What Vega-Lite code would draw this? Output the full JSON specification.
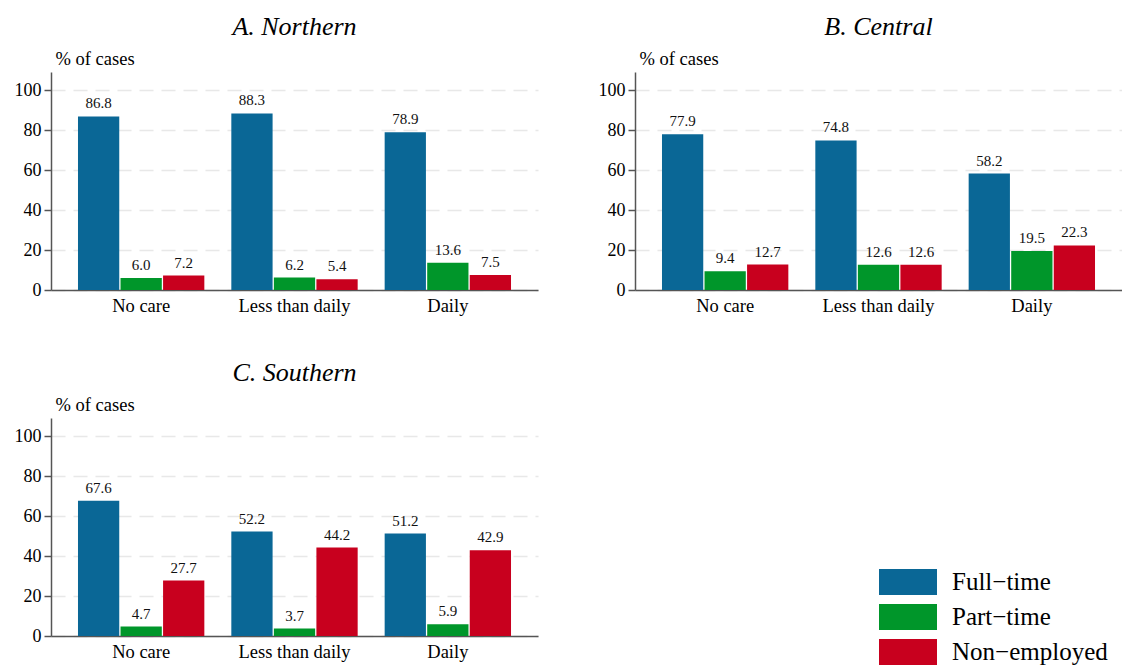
{
  "$schema": "https://vega.github.io/schema/vega-lite/v6.json",
  "background": "white",
  "padding": {"left": 14, "top": 14, "right": 0, "bottom": 0},
  "datasets": {
    "cases": [
      {"region": "Northern", "care": "No care", "status": "Full−time", "pct": 86.8},
      {"region": "Northern", "care": "No care", "status": "Part−time", "pct": 6.0},
      {"region": "Northern", "care": "No care", "status": "Non−employed", "pct": 7.2},
      {"region": "Northern", "care": "Less than daily", "status": "Full−time", "pct": 88.3},
      {"region": "Northern", "care": "Less than daily", "status": "Part−time", "pct": 6.2},
      {"region": "Northern", "care": "Less than daily", "status": "Non−employed", "pct": 5.4},
      {"region": "Northern", "care": "Daily", "status": "Full−time", "pct": 78.9},
      {"region": "Northern", "care": "Daily", "status": "Part−time", "pct": 13.6},
      {"region": "Northern", "care": "Daily", "status": "Non−employed", "pct": 7.5},
      {"region": "Central", "care": "No care", "status": "Full−time", "pct": 77.9},
      {"region": "Central", "care": "No care", "status": "Part−time", "pct": 9.4},
      {"region": "Central", "care": "No care", "status": "Non−employed", "pct": 12.7},
      {"region": "Central", "care": "Less than daily", "status": "Full−time", "pct": 74.8},
      {"region": "Central", "care": "Less than daily", "status": "Part−time", "pct": 12.6},
      {"region": "Central", "care": "Less than daily", "status": "Non−employed", "pct": 12.6},
      {"region": "Central", "care": "Daily", "status": "Full−time", "pct": 58.2},
      {"region": "Central", "care": "Daily", "status": "Part−time", "pct": 19.5},
      {"region": "Central", "care": "Daily", "status": "Non−employed", "pct": 22.3},
      {"region": "Southern", "care": "No care", "status": "Full−time", "pct": 67.6},
      {"region": "Southern", "care": "No care", "status": "Part−time", "pct": 4.7},
      {"region": "Southern", "care": "No care", "status": "Non−employed", "pct": 27.7},
      {"region": "Southern", "care": "Less than daily", "status": "Full−time", "pct": 52.2},
      {"region": "Southern", "care": "Less than daily", "status": "Part−time", "pct": 3.7},
      {"region": "Southern", "care": "Less than daily", "status": "Non−employed", "pct": 44.2},
      {"region": "Southern", "care": "Daily", "status": "Full−time", "pct": 51.2},
      {"region": "Southern", "care": "Daily", "status": "Part−time", "pct": 5.9},
      {"region": "Southern", "care": "Daily", "status": "Non−employed", "pct": 42.9}
    ]
  },
  "vconcat": [
    {
      "hconcat": [
        {
          "title": "A. Northern",
          "width": 487,
          "height": 218,
          "data": {"name": "cases"},
          "transform": [{"filter": "datum.region === 'Northern'"}],
          "encoding": {
            "x": {"field": "care", "type": "nominal", "sort": ["No care", "Less than daily", "Daily"], "scale": {"paddingInner": 0.176, "paddingOuter": 0.176}, "axis": {"title": null}},
            "xOffset": {"field": "status", "type": "nominal", "sort": ["Full−time", "Part−time", "Non−employed"], "scale": {"paddingInner": 0.03}},
            "y": {"field": "pct", "type": "quantitative", "scale": {"domain": [0, 109], "nice": false}, "axis": {"title": "% of cases", "values": [0, 20, 40, 60, 80, 100], "grid": true}}
          },
          "layer": [
            {"mark": {"type": "bar"}, "encoding": {"color": {"field": "status", "type": "nominal", "sort": ["Full−time", "Part−time", "Non−employed"], "scale": {"domain": ["Full−time", "Part−time", "Non−employed"], "range": ["#0a6796", "#00962a", "#c8001e"]}, "legend": {"title": null}}}},
            {"mark": {"type": "text", "dy": -8, "baseline": "alphabetic", "fontSize": 15, "color": "#111"}, "encoding": {"text": {"field": "pct", "type": "quantitative", "format": ".1f"}}}
          ]
        },
        {
          "title": "B. Central",
          "width": 487,
          "height": 218,
          "data": {"name": "cases"},
          "transform": [{"filter": "datum.region === 'Central'"}],
          "encoding": {
            "x": {"field": "care", "type": "nominal", "sort": ["No care", "Less than daily", "Daily"], "scale": {"paddingInner": 0.176, "paddingOuter": 0.176}, "axis": {"title": null}},
            "xOffset": {"field": "status", "type": "nominal", "sort": ["Full−time", "Part−time", "Non−employed"], "scale": {"paddingInner": 0.03}},
            "y": {"field": "pct", "type": "quantitative", "scale": {"domain": [0, 109], "nice": false}, "axis": {"title": "% of cases", "values": [0, 20, 40, 60, 80, 100], "grid": true}}
          },
          "layer": [
            {"mark": {"type": "bar"}, "encoding": {"color": {"field": "status", "type": "nominal", "sort": ["Full−time", "Part−time", "Non−employed"], "scale": {"domain": ["Full−time", "Part−time", "Non−employed"], "range": ["#0a6796", "#00962a", "#c8001e"]}, "legend": {"title": null}}}},
            {"mark": {"type": "text", "dy": -8, "baseline": "alphabetic", "fontSize": 15, "color": "#111"}, "encoding": {"text": {"field": "pct", "type": "quantitative", "format": ".1f"}}}
          ]
        }
      ],
      "spacing": 60
    },
    {
      "title": "C. Southern",
      "width": 487,
      "height": 218,
      "data": {"name": "cases"},
      "transform": [{"filter": "datum.region === 'Southern'"}],
      "encoding": {
        "x": {"field": "care", "type": "nominal", "sort": ["No care", "Less than daily", "Daily"], "scale": {"paddingInner": 0.176, "paddingOuter": 0.176}, "axis": {"title": null}},
        "xOffset": {"field": "status", "type": "nominal", "sort": ["Full−time", "Part−time", "Non−employed"], "scale": {"paddingInner": 0.03}},
        "y": {"field": "pct", "type": "quantitative", "scale": {"domain": [0, 109], "nice": false}, "axis": {"title": "% of cases", "values": [0, 20, 40, 60, 80, 100], "grid": true}}
      },
      "layer": [
        {"mark": {"type": "bar"}, "encoding": {"color": {"field": "status", "type": "nominal", "sort": ["Full−time", "Part−time", "Non−employed"], "scale": {"domain": ["Full−time", "Part−time", "Non−employed"], "range": ["#0a6796", "#00962a", "#c8001e"]}, "legend": {"title": null}}}},
        {"mark": {"type": "text", "dy": -8, "baseline": "alphabetic", "fontSize": 15, "color": "#111"}, "encoding": {"text": {"field": "pct", "type": "quantitative", "format": ".1f"}}}
      ]
    }
  ],
  "spacing": 45,
  "resolve": {"scale": {"color": "shared"}},
  "config": {
    "font": "Liberation Serif",
    "view": {"stroke": null},
    "style": {
      "guide-label": {"font": "Liberation Serif"},
      "guide-title": {"font": "Liberation Serif"},
      "group-title": {"font": "Liberation Serif"}
    },
    "title": {"font": "Liberation Serif", "fontSize": 26, "fontStyle": "italic", "fontWeight": "normal", "color": "#000", "anchor": "middle", "offset": 9},
    "axis": {"domainColor": "#555", "domainWidth": 1.5, "tickColor": "#555", "tickWidth": 1.5, "labelColor": "#000", "labelFont": "Liberation Serif", "titleFont": "Liberation Serif", "titleColor": "#000", "titleFontWeight": "normal"},
    "axisX": {"ticks": false, "labelAngle": 0, "labelFontSize": 18.5, "labelPadding": 6, "grid": false},
    "axisY": {"tickSize": 7, "labelFontSize": 18, "labelPadding": 3, "gridColor": "#e8e8e8", "gridWidth": 1.5, "gridDash": [14, 8], "titleAngle": 0, "titleAlign": "left", "titleBaseline": "alphabetic", "titleX": 4, "titleY": -8, "titleFontSize": 18.5},
    "legend": {"orient": "none", "legendX": 844, "legendY": 497, "padding": 0, "labelFontSize": 25, "labelColor": "#000", "labelFont": "Liberation Serif", "symbolType": "M-2.2308,-1H2.2308V1H-2.2308Z", "symbolSize": 676, "symbolStrokeWidth": 0, "symbolOpacity": 1, "labelOffset": 31, "rowPadding": 9, "labelLimit": 300}
  }
}
